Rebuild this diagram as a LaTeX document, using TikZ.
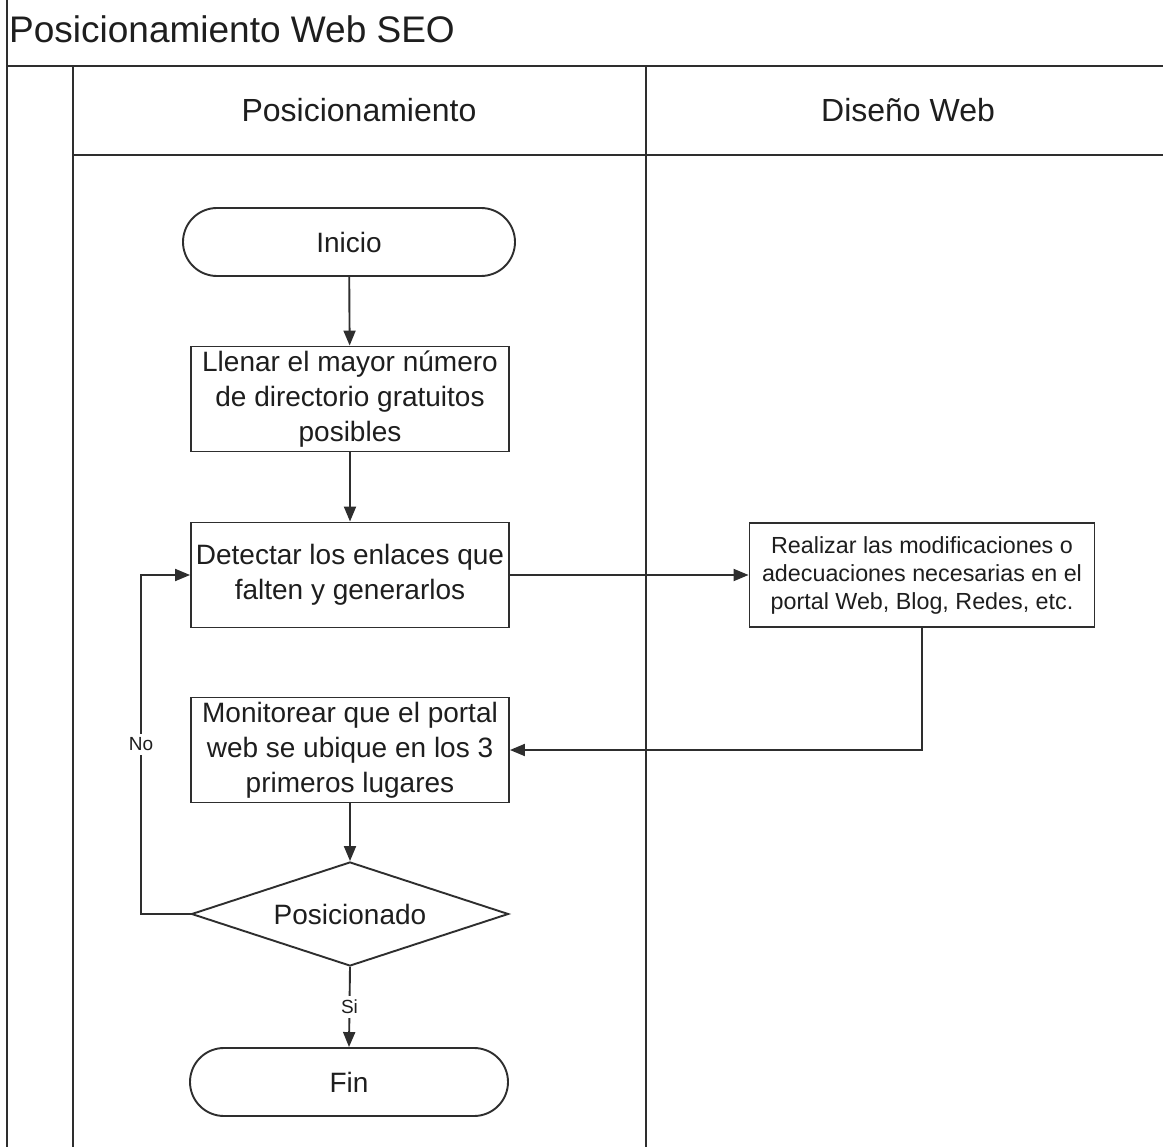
\documentclass[tikz,border=0pt]{standalone}
\usepackage{fontspec}
\setmainfont{Liberation Sans}
\usetikzlibrary{arrows.meta,shapes.misc,shapes.geometric}
\definecolor{linegray}{HTML}{2E2E2E}
\definecolor{txtgray}{HTML}{1E1E1E}
\begin{document}
\begin{tikzpicture}[x=1pt,y=-1pt,
  lane/.style={draw=linegray,line width=2.6pt},
  proc/.style={draw=linegray,line width=1.9pt,fill=white,text=txtgray,
    minimum width=318pt,minimum height=105pt,inner sep=0pt,align=center,
    font=\fontsize{28}{35}\selectfont},
  smallproc/.style={proc,minimum width=345pt,minimum height=104pt,
    font=\fontsize{23.3}{28}\selectfont},
  terminal/.style={draw=linegray,line width=1.9pt,fill=white,text=txtgray,
    rounded rectangle,minimum height=68pt,inner sep=0pt,
    font=\fontsize{28}{35}\selectfont},
  decision/.style={draw=linegray,line width=1.9pt,fill=white,text=txtgray,
    diamond,minimum width=317pt,minimum height=104pt,inner sep=0pt,aspect=3,
    font=\fontsize{28}{35}\selectfont},
  flow/.style={draw=linegray,line width=1.9pt,-{Triangle[length=15pt,width=12pt]}},
  lbl/.style={fill=white,text=txtgray,inner xsep=1.5pt,inner ysep=4pt,
    font=\fontsize{19}{22}\selectfont},
  heading/.style={text=txtgray,inner sep=0pt,font=\fontsize{32}{38}\selectfont}
]
\useasboundingbox (0,0) rectangle (1163,1147);
\fill[white] (0,0) rectangle (1163,1147);

% pool and lanes
\draw[lane] (7,0) -- (7,1147);
\draw[lane] (7,66) -- (1163,66);
\draw[lane] (73,66) -- (73,1147);
\draw[lane] (646,66) -- (646,1147);
\draw[lane] (73,155) -- (1163,155);

\node[anchor=base west,text=txtgray,inner sep=0pt,font=\fontsize{37}{44}\selectfont]
  (pooltitle) at (9,43) {Posicionamiento Web SEO};
\node[heading] (lanepos) at (359,110) {Posicionamiento};
\node[heading] (lanedis) at (908,110) {Diseño Web};

% steps
\node[terminal,minimum width=332pt] (inicio) at (349,242) {Inicio};
\node[proc] (llenar) at (350,399) {Llenar el mayor número\\de directorio gratuitos\\posibles};
\node[proc] (detectar) at (350,575) {Detectar los enlaces que\\falten y generarlos};
\node[smallproc] (realizar) at (922,575) {Realizar las modificaciones o\\adecuaciones necesarias en el\\portal Web, Blog, Redes, etc.};
\node[proc] (monitorear) at (350,750) {Monitorear que el portal\\web se ubique en los 3\\primeros lugares};
\node[decision] (posicionado) at (350,914) {Posicionado};
\node[terminal,minimum width=318pt] (fin) at (349,1082) {Fin};
\coordinate (nocorner) at (141,914);

% connectors
\draw[flow] (inicio) -- (llenar);
\draw[flow] (llenar) -- (detectar);
\draw[flow] (detectar) -- (realizar);
\draw[flow] (realizar.south) |- (monitorear.east);
\draw[flow] (monitorear) -- (posicionado);
\draw[flow] (posicionado.west) -- (nocorner) |- node[lbl,pos=0.25] {No} (detectar.west);
\draw[flow] (posicionado.south) -- node[lbl] {Si} (fin.north);
\end{tikzpicture}
\end{document}
